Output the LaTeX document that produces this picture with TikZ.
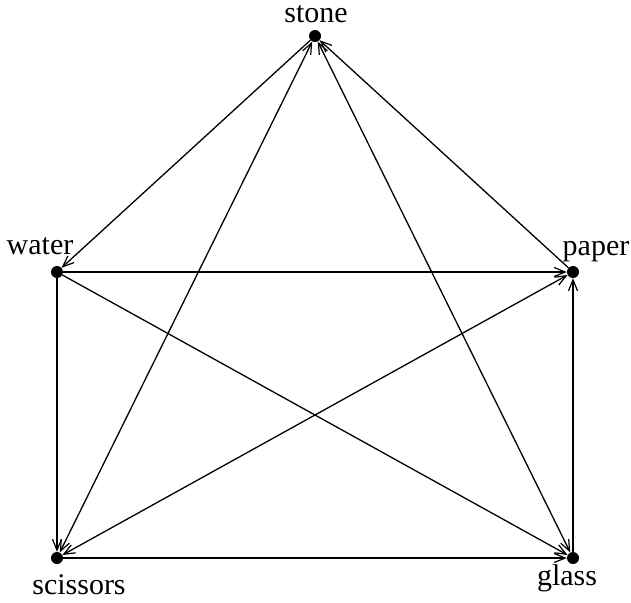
\documentclass[tikz,border=0pt]{standalone}
\usepackage{fontspec}
\setmainfont{Liberation Serif}
\usetikzlibrary{arrows.meta}
\begin{document}
\begin{tikzpicture}[x=1pt,y=-1pt,
  vtx/.style={circle,fill=black,inner sep=0pt,minimum size=12pt},
  lbl/.style={anchor=base,inner sep=0pt,font=\fontsize{30}{36}\selectfont},
  arc/.style={line width=1.3pt,-{Straight Barb[length=11pt,width=9pt,line width=1.2pt]}},
  darc/.style={line width=1.3pt,{Straight Barb[length=11pt,width=9pt,line width=1.2pt]}-{Straight Barb[length=11pt,width=9pt,line width=1.2pt]}}]
\useasboundingbox (0,0) rectangle (631,602);
\node[vtx] (stone) at (315,36) {};
\node[vtx] (water) at (57,272) {};
\node[vtx] (paper) at (573,272) {};
\node[vtx] (scissors) at (57,558) {};
\node[vtx] (glass) at (573,558) {};
\node[lbl] (lstone) at (316,23) {stone};
\node[lbl] (lwater) at (40,254) {water};
\node[lbl] (lpaper) at (596,255) {paper};
\node[lbl] (lscissors) at (79,594) {scissors};
\node[lbl] (lglass) at (567,585) {glass};
\draw[arc] (stone) -- (water);
\draw[arc] (paper) -- (stone);
\draw[darc] (stone) -- (scissors);
\draw[darc] (stone) -- (glass);
\draw[arc] (water) -- (paper);
\draw[arc] (water) -- (glass);
\draw[arc] (water) -- (scissors);
\draw[darc] (scissors) -- (paper);
\draw[arc] (scissors) -- (glass);
\draw[arc] (glass) -- (paper);
\end{tikzpicture}
\end{document}
